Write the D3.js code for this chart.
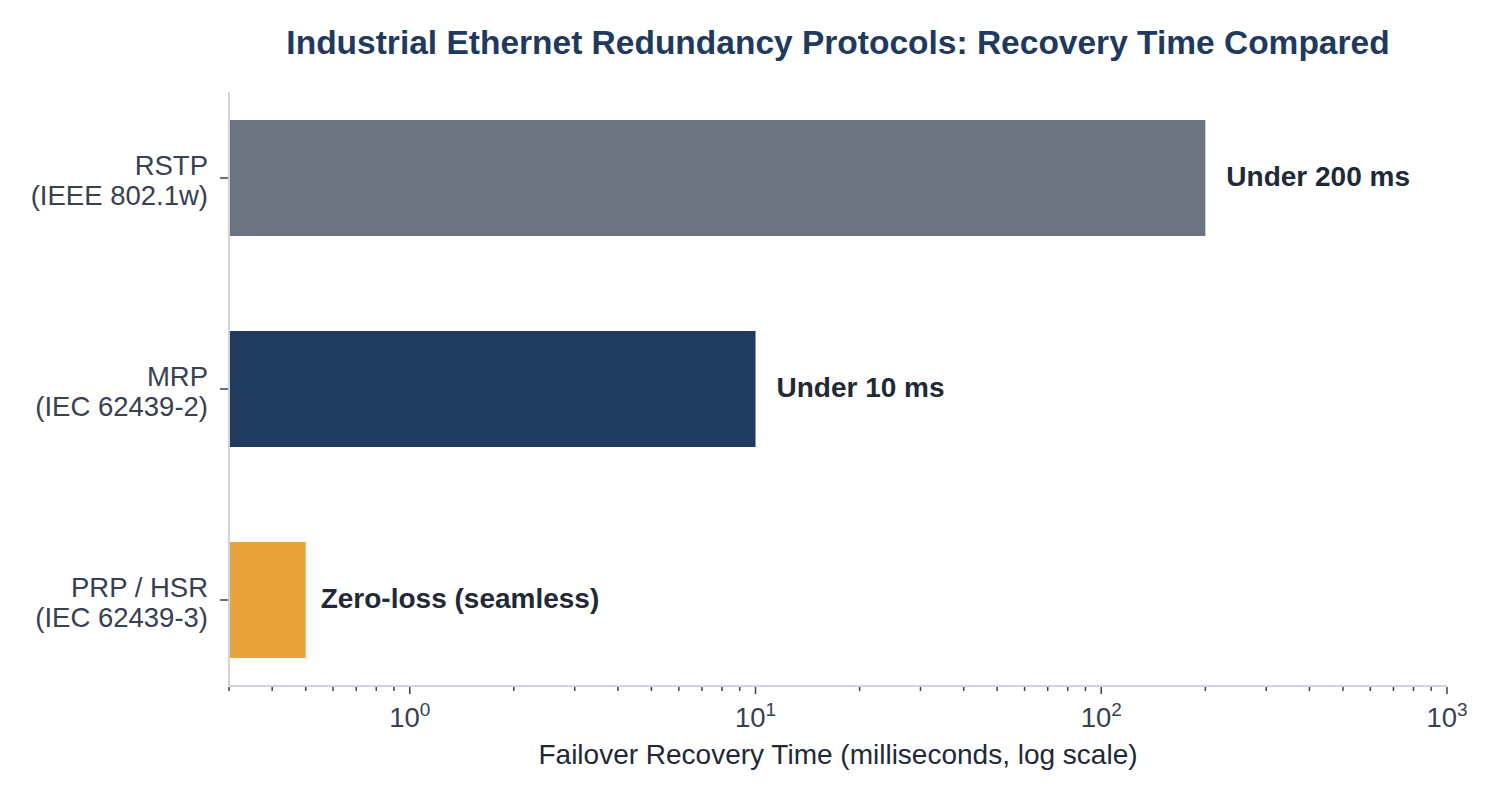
<!DOCTYPE html>
<html>
<head>
<meta charset="utf-8">
<script src="https://cdn.jsdelivr.net/npm/d3@7"></script>
<style>
  body { margin: 0; background: #fff; }
  text { font-family: "Liberation Sans", Arial, sans-serif; }
</style>
</head>
<body>
<svg id="chart" width="1500" height="800"></svg>
<script>
// protocols, top to bottom
var protocols = ['RSTP', 'MRP', 'PRP / HSR'];
var standards = ['(IEEE 802.1w)', '(IEC 62439-2)', '(IEC 62439-3)'];
var recoveryMs = [200, 10, 0.5];
var valueLabels = ['Under 200 ms', 'Under 10 ms', 'Zero-loss (seamless)'];
var barColors = ['#6b7280', '#1f3a5f', '#e8a33d'];
var majorTicks = [1, 10, 100, 1000];

var plotL = 229, plotR = 1447, plotT = 92, plotB = 686;

var svg = d3.select('#chart');

var x = d3.scaleLog()
	.domain([0.3, 1000])
	.range([plotL, plotR]);

var y = d3.scalePoint()
	.domain(protocols)
	.range([72.5, 705.5])
	.padding(0.5);

var barH = 116;

svg.append('text')
	.attr('x', 838)
	.attr('y', 54)
	.attr('text-anchor', 'middle')
	.style('font-size', '33.5px')
	.style('font-weight', 'bold')
	.style('fill', '#1f3a5f')
	.text('Industrial Ethernet Redundancy Protocols: Recovery Time Compared');

var rows = protocols.map(function(p, i) {
	return { name: p, std: standards[i], value: recoveryMs[i], label: valueLabels[i], color: barColors[i] };
});

svg.selectAll('rect.bar')
		.data(rows)
	.enter().append('rect')
		.attr('class', 'bar')
		.attr('x', x(0.3))
		.attr('y', function(d) { return y(d.name) - barH / 2; })
		.attr('width', function(d) { return x(d.value) - x(0.3); })
		.attr('height', barH)
		.style('fill', function(d) { return d.color; });

svg.selectAll('text.val')
		.data(rows)
	.enter().append('text')
		.attr('class', 'val')
		.attr('x', function(d) { return x(d.value) + (d.value < 1 ? 15 : 21); })
		.attr('y', function(d) { return y(d.name); })
		.attr('dy', '0.3em')
		.style('font-size', '28px')
		.style('font-weight', 'bold')
		.style('fill', '#1f2937')
		.text(function(d) { return d.label; });

// y axis
svg.append('line')
	.attr('x1', plotL).attr('x2', plotL)
	.attr('y1', plotT).attr('y2', plotB)
	.style('stroke', '#d1d5db').style('stroke-width', 2);

var yl = svg.selectAll('g.ylab')
		.data(rows)
	.enter().append('g')
		.attr('class', 'ylab')
		.attr('transform', function(d) { return 'translate(0,' + y(d.name) + ')'; });

yl.append('line')
	.attr('x1', 220).attr('x2', 228)
	.style('stroke', '#374151').style('stroke-width', 1.5);

yl.append('text')
	.attr('x', 208)
	.attr('y', -3)
	.attr('text-anchor', 'end')
	.style('font-size', '27.5px')
	.style('fill', '#374151')
	.text(function(d) { return d.name; });

yl.append('text')
	.attr('x', 208)
	.attr('y', 27)
	.attr('text-anchor', 'end')
	.style('font-size', '27.5px')
	.style('fill', '#374151')
	.text(function(d) { return d.std; });

// x axis
svg.append('line')
	.attr('x1', plotL).attr('x2', plotR)
	.attr('y1', plotB).attr('y2', plotB)
	.style('stroke', '#d1d5db').style('stroke-width', 2);

var allTicks = x.ticks().filter(function(t) { return t >= 0.3 && t <= 1000; });

svg.selectAll('line.xtick')
		.data(allTicks)
	.enter().append('line')
		.attr('class', 'xtick')
		.attr('x1', function(d) { return x(d); })
		.attr('x2', function(d) { return x(d); })
		.attr('y1', plotB + 1)
		.attr('y2', function(d) { return majorTicks.indexOf(d) >= 0 ? plotB + 8 : plotB + 5; })
		.style('stroke', '#374151').style('stroke-width', 1.5);

var xl = svg.selectAll('text.xlab')
		.data(majorTicks)
	.enter().append('text')
		.attr('class', 'xlab')
		.attr('x', function(d) { return x(d); })
		.attr('y', 727)
		.attr('text-anchor', 'middle')
		.style('font-size', '27.5px')
		.style('fill', '#374151');

xl.append('tspan').text('10');
xl.append('tspan')
	.attr('dy', -11)
	.style('font-size', '19px')
	.text(function(d) { return Math.round(Math.log10(d)); });

svg.append('text')
	.attr('x', 838)
	.attr('y', 764)
	.attr('text-anchor', 'middle')
	.style('font-size', '28px')
	.style('fill', '#1f2937')
	.text('Failover Recovery Time (milliseconds, log scale)');
</script>
</body>
</html>
